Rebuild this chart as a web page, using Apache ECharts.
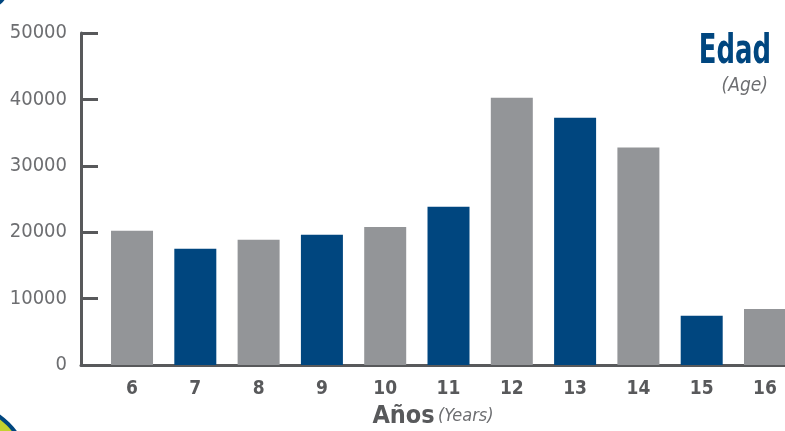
<!DOCTYPE html>
<html>
<head>
<meta charset="utf-8">
<script src="https://cdn.jsdelivr.net/npm/echarts@6/dist/echarts.min.js"></script>
<style>
html,body{margin:0;padding:0;background:#fff;}
#c{width:785px;height:431px;}
</style>
</head>
<body>
<div id="c"></div>
<script>
// Data
var ages = [6, 7, 8, 9, 10, 11, 12, 13, 14, 15, 16];
var counts = [20200, 17500, 18850, 19600, 20800, 23850, 40250, 37250, 32750, 7400, 8450];
var yTicks = [0, 10000, 20000, 30000, 40000, 50000];

var GRAY = '#939598', BLUE = '#00467f', AXIS = '#58595b', LABEL = '#6d6e71';
var FONT = '"DejaVu Sans Condensed","Liberation Sans Narrow","Roboto",sans-serif';

var chart = echarts.init(document.getElementById('c'), null, {renderer: 'canvas'});
chart.setOption({
  animation: false,
  backgroundColor: '#fff',
  grid: {left: 81, right: 0, top: 33, bottom: 66, containLabel: false, outerBoundsMode: 'none'},
  xAxis: {
    type: 'value', min: 5.194, max: 16.316,
    splitLine: {show: false},
    axisLine: {show: true, lineStyle: {color: AXIS, width: 3}},
    axisTick: {show: false},
    axisLabel: {customValues: ages, margin: 15, color: AXIS, fontFamily: FONT, fontWeight: 'bold', fontSize: 19},
    name: '{a|Años} {b|(Years)}',
    nameLocation: 'middle', nameGap: 39,
    nameTextStyle: {
      rich: {
        a: {fontFamily: FONT, fontWeight: 'bold', fontSize: 25, color: AXIS},
        b: {fontFamily: FONT, fontStyle: 'italic', fontSize: 18, color: LABEL}
      }
    }
  },
  yAxis: {
    type: 'value', min: 0, max: 50000, interval: 10000,
    splitLine: {show: false},
    axisLine: {show: true, lineStyle: {color: AXIS, width: 3}},
    axisTick: {show: true, inside: true, length: 17, lineStyle: {color: AXIS, width: 3}},
    axisLabel: {margin: 14, color: LABEL, fontFamily: FONT, fontSize: 20,
      formatter: function (v) { return yTicks.indexOf(v) >= 0 ? String(v) : ''; }}
  },
  series: [{
    type: 'bar',
    barWidth: 42,
    data: ages.map(function (a, i) { return [a, counts[i]]; }),
    itemStyle: {color: function (p) { return p.dataIndex % 2 === 0 ? GRAY : BLUE; }}
  }],
  graphic: [
    {type: 'text', x: 771, y: 33, scaleX: 0.72, silent: true, z: 100,
      style: {text: 'Edad', align: 'right', verticalAlign: 'top', fontFamily: FONT, fontWeight: 'bold', fontSize: 40, fill: BLUE}},
    {type: 'text', x: 768, y: 77, silent: true, z: 100,
      style: {text: '(Age)', align: 'right', verticalAlign: 'top', fontFamily: FONT, fontStyle: 'italic', fontSize: 19, fill: LABEL}},
    {type: 'circle', shape: {cx: -16, cy: -16, r: 26}, style: {fill: BLUE}, z: 100, silent: true},
    {type: 'circle', shape: {cx: -40, cy: 472, r: 68}, style: {fill: '#c5d22f', stroke: BLUE, lineWidth: 4}, z: 100, silent: true}
  ]
});
</script>
</body>
</html>
